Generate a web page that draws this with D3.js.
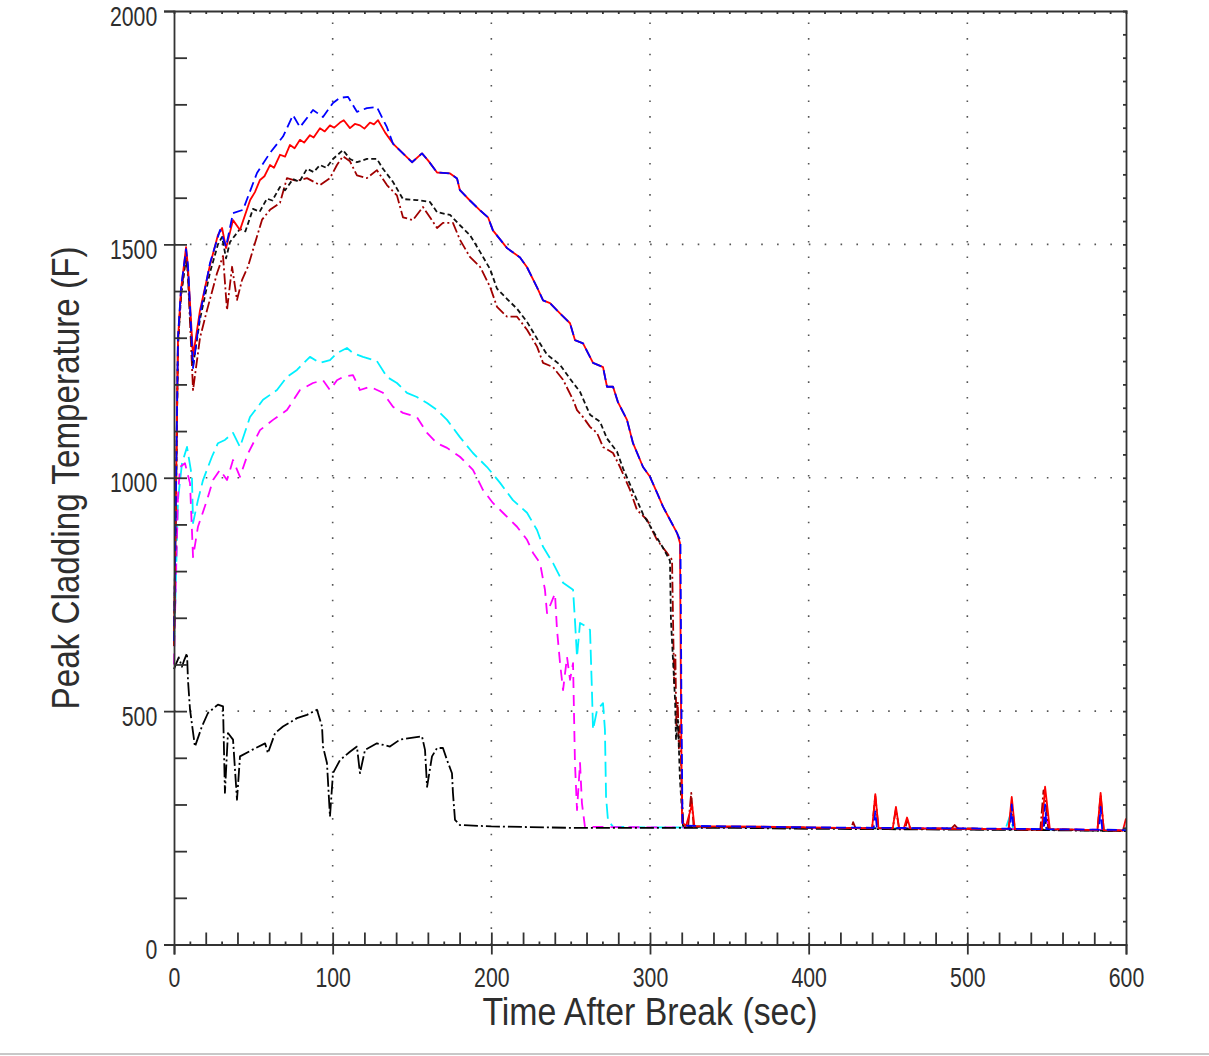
<!DOCTYPE html>
<html>
<head>
<meta charset="utf-8">
<script src="https://cdn.jsdelivr.net/npm/d3@7"></script>
<style>
	body { margin: 0; background: #fff; }
	svg text { font-family: "Liberation Sans", Arial, sans-serif; fill: #2e2e2e; }
	.axis path, .axis line { stroke: #333; stroke-width: 1.8; }
	.grid { stroke: #555; stroke-width: 1.6; }
</style>
</head>
<body>
<div id="chart"></div>
<script>
// Time [sec] and peak cladding temperature [F]
const blueCase = [[0,650],[2.5,1300],[4.4,1405],[7.6,1490],[8.8,1455],[12,1235],[16.4,1350],[22.7,1460],[29,1531],[32.8,1495],[37.2,1567],[43.5,1574],[52.3,1653],[60.5,1696],[68.7,1731],[75,1777],[79.4,1751],[87.6,1788],[93.9,1773],[100.2,1803],[104.6,1814],[109.7,1816],[115.3,1784],[121.6,1792],[127.9,1794],[134.2,1751],[138,1716],[144.3,1695],[150,1676],[156.3,1695],[160.1,1680],[165.8,1654],[174,1652],[178.4,1641],[180.2,1616],[186.5,1594],[192.9,1573],[197.9,1558],[201,1530],[209.9,1492],[218.1,1472],[222.5,1451],[228.8,1408],[232.6,1380],[237,1374],[243.3,1352],[249.6,1331],[252.7,1295],[257.8,1288],[264.1,1246],[270.4,1237],[272.9,1195],[276.7,1195],[279.8,1162],[285.5,1124],[289.3,1074],[295.6,1023],[300,1002],[304.4,968],[308.2,938],[312.6,910],[317,882],[319.2,865],[319.8,524],[320.5,255],[330,254],[400,251],[441,250],[442,285],[443,250],[527,248],[528,300],[529,248],[548,247],[549,300],[550,247],[583,246],[584,295],[585,246],[600,245]];

const redCase = [[0,640],[2.5,1295],[4.4,1402],[7.6,1494],[8.8,1452],[12,1260],[16.4,1359],[22.7,1456],[27.7,1520],[30.3,1535],[32.8,1492],[37.2,1552],[41.6,1531],[48,1595],[51,1612],[54.2,1638],[57,1646],[60.5,1670],[63,1664],[66.8,1692],[70,1688],[73.1,1713],[76,1706],[79.4,1724],[82,1718],[85.7,1734],[88,1729],[92,1749],[95,1742],[98.3,1755],[101,1750],[104.6,1761],[107,1766],[110.9,1749],[114,1758],[117.2,1755],[120,1748],[123.5,1761],[126,1757],[128.6,1766],[133,1740],[138,1716],[144.3,1695],[150,1676],[156.3,1695],[160.1,1680],[165.8,1654],[174,1652],[178.4,1641],[180.2,1616],[186.5,1594],[192.9,1573],[197.9,1558],[201,1530],[209.9,1492],[218.1,1472],[222.5,1451],[228.8,1408],[232.6,1380],[237,1374],[243.3,1352],[249.6,1331],[252.7,1295],[257.8,1288],[264.1,1246],[270.4,1237],[272.9,1195],[276.7,1195],[279.8,1162],[285.5,1124],[289.3,1074],[295.6,1023],[300,1002],[304.4,968],[308.2,938],[312.6,910],[317,882],[318.9,860],[319.5,524],[320.2,262],[322.7,254],[326.5,300],[328,253],[350,253],[380,252],[400,251],[420,250],[440,249],[442,322],[444,250],[453,249],[455,295],[457,249],[460,249],[462,272],[464,249],[490,248],[526,247],[528,316],[530,247],[547,246],[549,338],[552,247],[582,245],[584,325],[586,245],[598,244],[600,270]];

const blackCase = [[0,640],[2.5,1280],[4.4,1390],[7.6,1470],[8.8,1440],[12,1240],[16.4,1340],[22.7,1440],[27.7,1500],[30.3,1516],[32.8,1470],[35.3,1505],[41.6,1533],[45,1528],[49.8,1576],[54,1570],[58.6,1598],[62,1594],[66.8,1623],[70,1616],[75,1640],[79,1634],[83.8,1662],[88,1655],[92,1670],[96,1664],[100.2,1683],[106.5,1702],[110.9,1683],[115.3,1676],[121.6,1683],[127.9,1683],[131.7,1662],[138,1634],[144.3,1597],[153.1,1595],[161.3,1591],[165.8,1569],[174,1563],[180.2,1541],[186.5,1520],[192.9,1484],[199.2,1447],[203.6,1405],[209.9,1383],[216.2,1362],[222.5,1334],[228.8,1298],[235.1,1264],[243.3,1242],[249.6,1212],[255.9,1184],[262.2,1135],[268.5,1120],[272.9,1084],[279.2,1056],[283,1020],[289.3,971],[295.6,922],[301.9,886],[308.2,850],[312.6,822],[313.2,695],[314.5,610],[315.8,524],[316.4,438],[317.6,481],[318.9,352],[320.8,254],[340,252],[400,250],[500,247],[548,246],[549,270],[550,246],[600,243]];

const darkRedCase = [[0,640],[2.5,1290],[4.4,1390],[7.6,1480],[8.8,1430],[12,1188],[16.4,1300],[20.8,1359],[27.1,1438],[30.9,1475],[33.4,1359],[36.6,1452],[39.7,1381],[42.9,1424],[46.6,1452],[52.3,1517],[55.5,1553],[60.5,1574],[66.8,1589],[71.2,1642],[77.5,1636],[83.8,1642],[92,1627],[98.3,1642],[102.7,1670],[106.5,1689],[110.9,1678],[115.3,1648],[121.6,1642],[127.9,1659],[134.2,1627],[140.5,1605],[144.3,1558],[150.6,1552],[156.9,1580],[161.3,1558],[165.8,1535],[169.5,1546],[175.8,1546],[180.2,1510],[186.5,1473],[192.9,1452],[199.2,1409],[203.6,1366],[209.9,1345],[216.2,1345],[222.5,1317],[228.8,1281],[232.6,1246],[238.9,1237],[245.2,1210],[251.5,1167],[254,1145],[257.8,1130],[262.2,1109],[266.6,1096],[270.4,1066],[276.7,1053],[281.1,1023],[287.4,974],[291.8,931],[298.1,910],[304.4,867],[310.7,839],[313.9,824],[314.5,700],[315.2,560],[316,620],[316.6,470],[317.5,520],[318.2,420],[319,470],[320,330],[321,256],[324,252],[326,325],[327.5,252],[350,252],[400,250],[427,250],[428,262],[429.5,250],[440,249],[442,318],[444,249],[453,249],[455,290],[457,249],[461,249],[462,268],[464,249],[490,249],[492,256],[494,249],[526,247],[528,300],[530,247],[546,246],[548,330],[549,320],[551,247],[582,245],[584,320],[586,245],[600,244]];

const cyanCase = [[0,640],[0.6,700],[2.5,952],[5,1030],[8.2,1066],[11.3,1002],[12,903],[15.1,952],[18.3,995],[23.9,1045],[27.7,1074],[32.1,1081],[37.2,1096],[41.6,1066],[47.9,1130],[56.1,1167],[64.9,1188],[71.2,1216],[77.5,1231],[85.7,1259],[92,1246],[98.3,1252],[102.7,1267],[109,1278],[112.8,1267],[119.1,1259],[127.9,1250],[134.2,1216],[140.5,1203],[146.8,1182],[153.1,1173],[159.5,1160],[165.8,1145],[172.1,1124],[180.2,1087],[188.4,1053],[197.3,1023],[205.5,989],[213.6,952],[222.5,925],[228.8,888],[232.6,852],[238.9,817],[245.2,775],[251.5,760],[252.7,695],[254,616],[255.9,689],[260.3,680],[262.2,674],[263.4,545],[264.1,460],[266.6,502],[270.4,517],[271.6,460],[272.3,316],[273.5,267],[276.7,252],[300,251],[350,251],[400,250],[450,249],[500,248],[524,247],[527,277],[529,247],[560,246],[600,245]];

const magentaCase = [[0,600],[0.6,700],[2.5,960],[3.8,1023],[6.9,1031],[10.1,988],[12,830],[15.1,895],[20.8,952],[24.6,995],[29,1017],[33.4,995],[37.2,1038],[41.6,1002],[46.6,1052],[54.2,1102],[62.4,1124],[71.2,1145],[79.4,1188],[87.6,1203],[93.9,1209],[98.3,1188],[102.7,1209],[106.5,1216],[112.8,1220],[117.2,1188],[123.5,1195],[131.7,1182],[138,1152],[144.3,1139],[153.1,1130],[159.5,1096],[165.8,1074],[172.1,1064],[180.2,1045],[188.4,1017],[194.7,974],[201,946],[207.3,925],[216.2,895],[222.5,867],[226.3,839],[230.7,817],[233.8,760],[235.1,710],[240.1,752],[241.4,674],[243.3,603],[245.2,545],[247.7,616],[249.6,567],[251.5,603],[252.7,389],[254,288],[255.9,389],[257.1,303],[259,252],[300,251],[350,251],[400,250],[450,249],[500,248],[546,247],[549,280],[552,247],[600,245]];

const lowerCase = [[0,590],[1.5,603],[3,615],[5,595],[6.5,610],[8.2,624],[8.8,567],[10.1,503],[13.2,424],[17.6,467],[21.4,496],[27.7,514],[30.9,510],[32.1,325],[34,453],[37.2,439],[39.7,310],[41.6,403],[49.2,417],[57.4,431],[59.2,410],[63.7,453],[68.7,467],[77.5,485],[83.8,492],[90.1,503],[93.3,467],[93.9,424],[96.4,389],[98.3,274],[100.2,367],[104.6,395],[110.9,413],[115.3,424],[117.2,367],[120.4,417],[127.9,431],[136.1,424],[142.4,439],[150.6,443],[156.3,446],[158.2,417],[159.5,338],[162.6,403],[165.8,421],[169.5,421],[172.1,395],[175.2,367],[175.8,325],[177.1,267],[180.2,256],[200,253],[250,250],[300,250],[350,250],[400,248],[450,247],[500,246],[550,245],[600,243]];

const xTicks = [0, 100, 200, 300, 400, 500, 600];
const yTicks = [0, 500, 1000, 1500, 2000];

// drawing order: bottom to top
const series = [
	{ data: cyanCase, color: "#00f0ff", dash: "15,6" },
	{ data: magentaCase, color: "#ff00ff", dash: "11,7" },
	{ data: lowerCase, color: "#000", dash: "14,3,2,3" },
	{ data: darkRedCase, color: "#a00000", dash: "11,3,2,3" },
	{ data: blackCase, color: "#111", dash: "5,3" },
	{ data: redCase, color: "#ff0000", dash: null },
	{ data: blueCase, color: "#0000ff", dash: "10,5" }
];

const width = 1209, height = 1056;
const plotLeft = 174, plotRight = 1126, plotTop = 11, plotBottom = 944.5;
const narrow = 0.76; // the original lettering is condensed

const x = d3.scaleLinear().domain([0, 600]).range([plotLeft, plotRight]);
const y = d3.scaleLinear().domain([0, 2000]).range([plotBottom, plotTop]);

const svg = d3.select("#chart").append("svg")
	.attr("width", width)
	.attr("height", height);

// dotted grid
svg.append("g").selectAll("line")
	.data(xTicks.slice(1, -1))
	.join("line")
	.attr("class", "grid")
	.attr("x1", d => x(d)).attr("x2", d => x(d))
	.attr("y1", plotBottom).attr("y2", plotTop)
	.attr("stroke-dasharray", "1.6,14");
svg.append("g").selectAll("line")
	.data(yTicks.slice(1, -1))
	.join("line")
	.attr("class", "grid")
	.attr("y1", d => y(d)).attr("y2", d => y(d))
	.attr("x1", plotLeft).attr("x2", plotRight)
	.attr("stroke-dasharray", "1.6,14.27");

// curves
const line = d3.line().x(d => x(d[0])).y(d => y(d[1]));
svg.append("g").selectAll("path")
	.data(series)
	.join("path")
	.attr("d", d => line(d.data))
	.attr("fill", "none")
	.attr("stroke", d => d.color)
	.attr("stroke-width", 1.8)
	.attr("stroke-linejoin", "round")
	.attr("stroke-dasharray", d => d.dash);

// axes
const fmt = d3.format("d");
svg.append("g").attr("class", "axis")
	.attr("transform", `translate(0,${plotBottom})`)
	.call(d3.axisBottom(x).tickValues(xTicks).tickSize(10).tickPadding(13).tickFormat(fmt))
	.call(g => g.selectAll("text").attr("font-size", 28).attr("transform", `scale(${narrow},1)`));
svg.append("g").attr("class", "axis")
	.attr("transform", `translate(0,${plotBottom})`)
	.call(d3.axisTop(x).tickValues(d3.range(20, 600, 20)).tickSize(12).tickFormat(""))
	.call(g => g.select(".domain").remove());
svg.append("g").attr("class", "axis")
	.attr("transform", `translate(0,${plotBottom})`)
	.call(d3.axisTop(x).tickValues(d3.range(10, 600, 20)).tickSize(3).tickFormat(""))
	.call(g => g.select(".domain").remove());
svg.append("g").attr("class", "axis")
	.attr("transform", `translate(0,${plotTop})`)
	.call(d3.axisBottom(x).tickValues(d3.range(10, 600, 10)).tickSize(3).tickFormat(""));

svg.append("g").attr("class", "axis")
	.attr("transform", `translate(${plotLeft},0)`)
	.call(d3.axisLeft(y).tickValues(yTicks).tickSize(10).tickPadding(12).tickFormat(fmt))
	.call(g => g.selectAll("text").attr("font-size", 28).attr("dy", "0.5em")
		.attr("transform", `scale(${narrow},1)`));
svg.append("g").attr("class", "axis")
	.attr("transform", `translate(${plotLeft},0)`)
	.call(d3.axisRight(y).tickValues(d3.range(100, 2000, 100)).tickSize(13).tickFormat(""))
	.call(g => g.select(".domain").remove());
svg.append("g").attr("class", "axis")
	.attr("transform", `translate(${plotRight},0)`)
	.call(d3.axisLeft(y).tickValues(d3.range(50, 2000, 50)).tickSize(3).tickFormat(""));

// axis titles
svg.append("text")
	.attr("transform", "translate(650,1025) scale(0.89,1)")
	.attr("text-anchor", "middle")
	.attr("font-size", 38)
	.text("Time After Break (sec)");
svg.append("text")
	.attr("transform", "translate(79,478) rotate(-90) scale(0.875,1)")
	.attr("text-anchor", "middle")
	.attr("font-size", 38)
	.text("Peak Cladding Temperature (F)");

// thin page rule at the bottom
svg.append("line")
	.attr("x1", 0).attr("x2", width)
	.attr("y1", 1054).attr("y2", 1054)
	.attr("stroke", "#c8c8c8").attr("stroke-width", 2);
</script>
</body>
</html>
